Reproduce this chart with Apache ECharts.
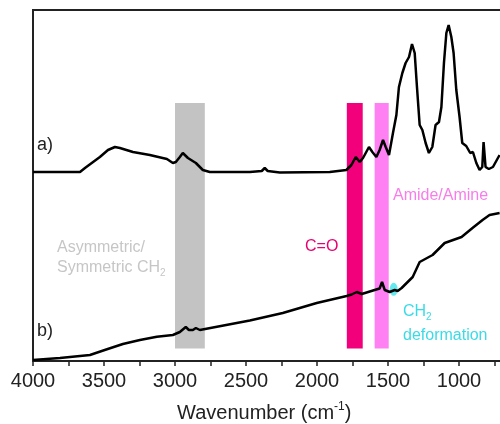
<!DOCTYPE html>
<html>
<head>
<meta charset="utf-8">
<script src="https://cdn.jsdelivr.net/npm/echarts@6/dist/echarts.min.js"></script>
<style>
html,body{margin:0;padding:0;background:#fff;}
#c{width:500px;height:424px;}
</style>
</head>
<body>
<div id="c"></div>
<script>
// Spectrum a) : wavenumber (cm-1) and relative absorbance (arbitrary units)
const waveA = [4000,3810,3669,3634,3529,3472,3423,3388,3296,3177,3057,3015,2994,2966,2945,2909,2853,2804,2755,2473,2389,2368,2347,2262,1910,1793,1758,1727,1699,1676,1634,1610,1582,1559,1535,1516,1493,1465,1441,1423,1399,1376,1352,1331,1312,1296,1277,1258,1235,1212,1188,1165,1141,1124,1106,1089,1073,1054,1038,1019,996,977,949,921,902,878,855,836,827,813,790,761,726,714];
const absA  = [189,189,189,193,204,211,214,213,209,206,202,198,199,204,208,203,198,191,189,189,190,193,190,188.5,189,191,196,204,199,203,214,209,204,211,221,214,206,228,246,274,288,298,304,317,308,274,236,231,218,208,214,236,239,254,298,328,336,324,308,271,244,218,215,208,209,198,191,194,219,194,192,194,203,206];
// Spectrum b)
const waveB = [4000,3810,3599,3479,3367,3247,3128,3015,2966,2924,2902,2874,2853,2825,2473,2241,2002,1791,1756,1720,1685,1594,1559,1542,1523,1488,1453,1432,1404,1326,1277,1186,1101,982,905,834,785,714];
const absB  = [1,3,6,11.7,17,21,24.3,26,29,34,31,31,33,31,40.5,48,58,65,66.5,69,67,71,72.5,79,71,69,71,70,73,84,99,106,118,124,133,141,146,148];
// Highlighted bands: [from, to] wavenumber
const bandNames  = ['CH2 stretch','C=O','Amide/Amine'];
const bandRanges = [[3000,2790],[1790,1678],[1594,1495]];
const bandColors = ['#c3c3c3','#f2007c','#ff80f3'];
const bandY = [12.5, 258];
// CH2 deformation marker
const ch2Point = [[1460, 71.7]];
// Axis
const xMin = 500, xMax = 4000, xStep = 500;
const yMin = 0, yMax = 351;

const chart = echarts.init(document.getElementById('c'), null, {renderer:'canvas'});
const F = '"Liberation Sans", Arial, sans-serif';
const toPairs = (xs, ys) => xs.map((x,i)=>[x, ys[i]]);

const bandData = bandRanges.map((r,i)=>[
  {xAxis:r[0], yAxis:bandY[0], itemStyle:{color:bandColors[i], opacity:1}},
  {xAxis:r[1], yAxis:bandY[1]}
]);

const option = {
  animation:false,
  backgroundColor:'#fff',
  grid:{left:33, top:10, width:497, height:351, outerBoundsMode:'none', containLabel:false,
        show:true, borderColor:'#222', borderWidth:2, backgroundColor:'transparent'},
  xAxis:{
    type:'value', min:xMin, max:xMax, interval:xStep, inverse:true,
    axisLine:{show:true, onZero:false, lineStyle:{color:'#222', width:2}},
    axisTick:{show:true, inside:false, length:5, lineStyle:{color:'#222', width:1.5}},
    minorTick:{show:true, splitNumber:2, length:5, lineStyle:{color:'#222', width:1.5}},
    axisLabel:{fontFamily:F, fontSize:20, color:'#222', margin:10, formatter:v=>String(v)},
    splitLine:{show:false}, minorSplitLine:{show:false}
  },
  yAxis:{
    type:'value', min:yMin, max:yMax,
    axisLine:{show:true, lineStyle:{color:'#222', width:2}},
    axisTick:{show:false}, axisLabel:{show:false}, splitLine:{show:false}
  },
  series:[
    {type:'line', data:[], z:1, silent:true,
     markArea:{silent:true, label:{show:false}, data:bandData}},
    {type:'scatter', data:ch2Point, z:2, symbol:'circle', symbolSize:[8,13],
     itemStyle:{color:'#3fe2ea'}},
    {name:'a', type:'line', data:toPairs(waveA,absA), z:3, showSymbol:false, symbol:'none',
     lineStyle:{color:'#000', width:2.5}, smooth:false},
    {name:'b', type:'line', data:toPairs(waveB,absB), z:3, showSymbol:false, symbol:'none',
     lineStyle:{color:'#000', width:2.5}, smooth:false}
  ],
  graphic:[
    {type:'text', z:100, left:37, top:136, style:{text:'a)', font:'18px '+F, fill:'#222'}},
    {type:'text', z:100, left:37, top:322, style:{text:'b)', font:'18px '+F, fill:'#222'}},
    {type:'text', z:100, left:57, top:240, style:{text:'Asymmetric/', font:'16px '+F, fill:'#c6c6c6'}},
    {type:'text', z:100, left:57, top:258, style:{
      text:'Symmetric CH{sub|2}', font:'16px '+F, fill:'#c6c6c6', lineHeight:20,
      rich:{sub:{fontSize:10, fontFamily:F, fill:'#c6c6c6', verticalAlign:'bottom', lineHeight:10}}}},
    {type:'text', z:100, left:305, top:239, style:{text:'C=O', font:'16px '+F, fill:'#e8006f'}},
    {type:'text', z:100, left:393, top:188, style:{text:'Amide/Amine', font:'16px '+F, fill:'#f77de9'}},
    {type:'text', z:100, left:403, top:302, style:{
      text:'CH{sub|2}', font:'16px '+F, fill:'#3adbe6', lineHeight:20,
      rich:{sub:{fontSize:10, fontFamily:F, fill:'#3adbe6', verticalAlign:'bottom', lineHeight:10}}}},
    {type:'text', z:100, left:403, top:328, style:{text:'deformation', font:'16px '+F, fill:'#3adbe6'}},
    {type:'text', z:100, left:177, top:401, style:{
      text:'Wavenumber (cm{sup|-1})', font:'20px '+F, fill:'#222', lineHeight:24,
      rich:{sup:{fontSize:12, fontFamily:F, fill:'#222', verticalAlign:'top', lineHeight:12}}}}
  ]
};
chart.setOption(option);
</script>
</body>
</html>
